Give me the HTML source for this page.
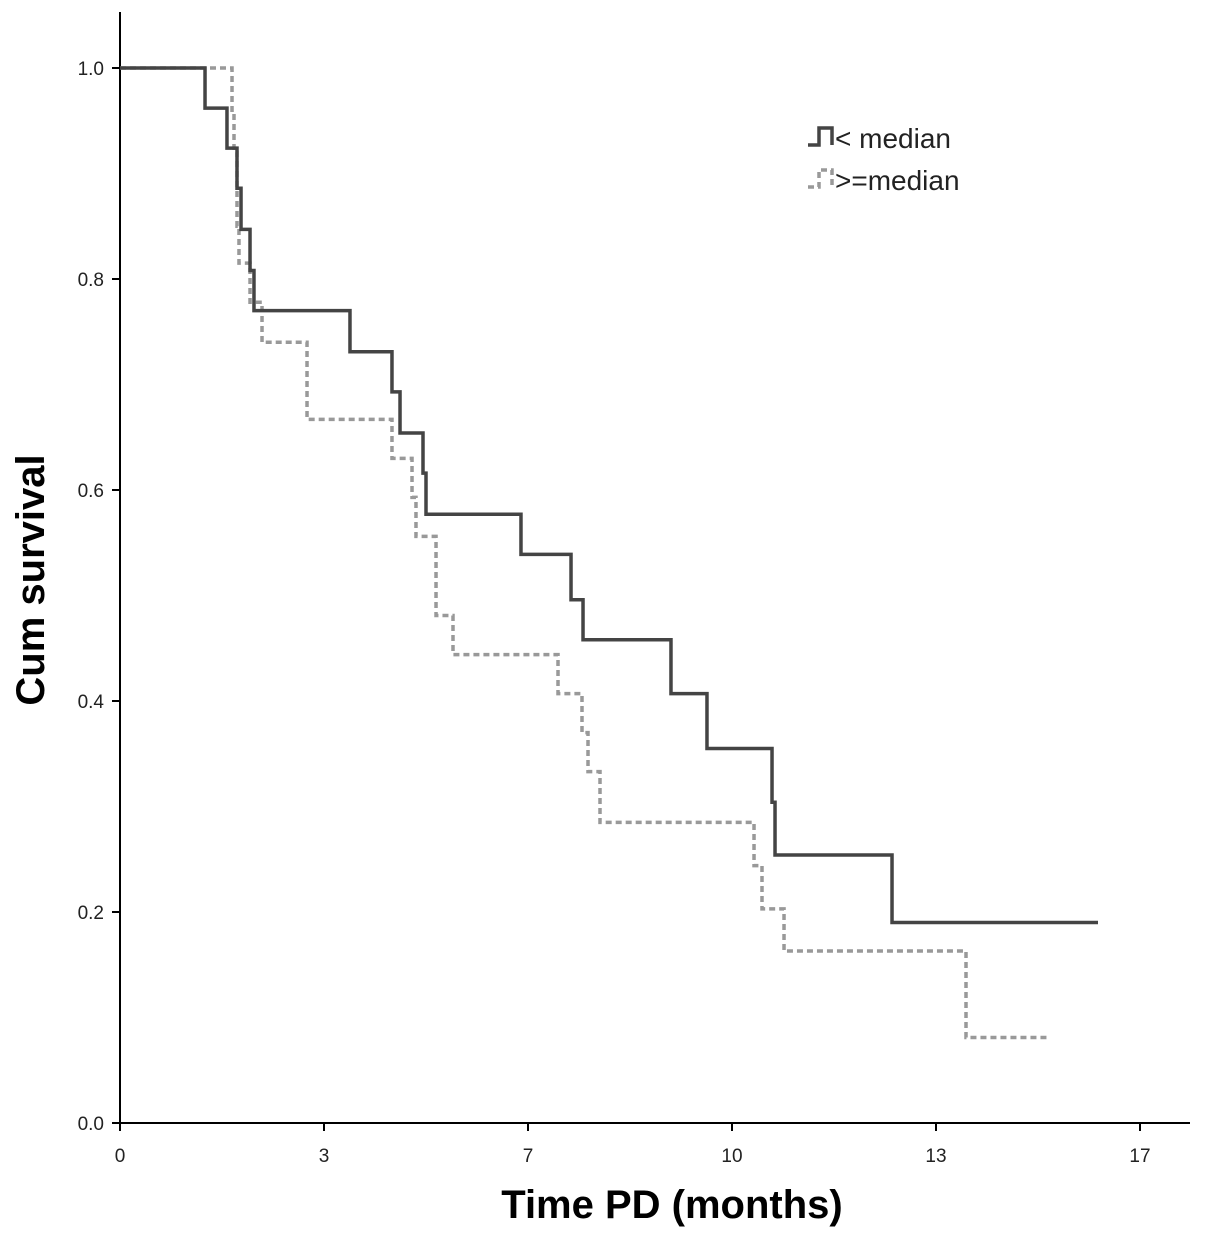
<!DOCTYPE html>
<html><head><meta charset="utf-8"><style>
html,body{margin:0;padding:0;background:#fff;}
svg text{font-family:"Liberation Sans",Arial,sans-serif;}
</style></head><body>
<svg id="chart" width="1205" height="1237" viewBox="0 0 1205 1237" xmlns="http://www.w3.org/2000/svg">
<rect width="1205" height="1237" fill="#fff"/>
<g id="axes"></g>
<g id="series"></g>
<text transform="translate(44,580) rotate(-90)" text-anchor="middle" font-size="40" font-weight="bold" fill="#000">Cum survival</text>
<text x="672" y="1218" text-anchor="middle" font-size="40" font-weight="bold" fill="#000">Time PD (months)</text>
<g>
<path d="M808,145 L819,145 L819,128 L832,128 L832,145" fill="none" stroke="#444" stroke-width="3.5"/>
<text x="835" y="148" font-size="28" fill="#222">&lt; median</text>
<path d="M808,187 L819,187 L819,170 L832,170 L832,187" fill="none" stroke="#999" stroke-width="3.5" stroke-dasharray="6,4"/>
<text x="835" y="190" font-size="28" fill="#222">&gt;=median</text>
</g>
</svg>
<script>
const yTicks=[0,0.2,0.4,0.6,0.8,1.0];
const yTickLabels=["0.0","0.2","0.4","0.6","0.8","1.0"];
const xTicks=[0,3.4,6.8,10.2,13.6,17];
const xTickLabels=["0","3","7","10","13","17"];
const solidTimes=[1.417,1.783,1.95,2.017,2.167,2.233,3.833,4.533,4.667,5.05,5.1,6.683,7.517,7.717,9.183,9.783,10.867,10.917,12.867];
const solidValues=[0.962,0.924,0.886,0.847,0.808,0.770,0.731,0.693,0.654,0.616,0.577,0.539,0.496,0.458,0.407,0.355,0.304,0.254,0.19];
const solidEnd=16.3;
const dashTimes=[1.867,1.9,1.95,1.983,2.167,2.367,3.117,4.533,4.867,4.933,5.267,5.55,7.3,7.7,7.8,8.0,10.567,10.7,11.067,14.1];
const dashValues=[0.96,0.92,0.85,0.815,0.778,0.74,0.667,0.63,0.593,0.556,0.481,0.444,0.407,0.37,0.333,0.285,0.244,0.203,0.163,0.081];
const dashEnd=15.5;

const NS="http://www.w3.org/2000/svg";
const X=m=>120+m*60;
const Y=v=>1123-v*1055;
function mk(tag,attrs,parent){const e=document.createElementNS(NS,tag);for(const k in attrs)e.setAttribute(k,attrs[k]);parent.appendChild(e);return e;}
const axes=document.getElementById('axes');
let yl=mk('line',{x1:120,y1:12,x2:120,y2:1123,stroke:'#000','stroke-width':2},axes);


let xl=mk('line',{x1:119,y1:1123,x2:1190,y2:1123,stroke:'#000','stroke-width':2},axes);


yTicks.forEach((v,i)=>{
  let t=mk('line',{x1:112,y1:Y(v),x2:120,y2:Y(v),stroke:'#000','stroke-width':2},axes);
  
  
  let l=mk('text',{x:104,y:Y(v)+7,'text-anchor':'end','font-size':19,fill:'#222'},axes);
  l.textContent=yTickLabels[i];
  
  
});
xTicks.forEach((m,i)=>{
  let t=mk('line',{x1:X(m),y1:1123,x2:X(m),y2:1131,stroke:'#000','stroke-width':2},axes);
  
  
  let l=mk('text',{x:X(m),y:1162,'text-anchor':'middle','font-size':19,fill:'#222'},axes);
  l.textContent=xTickLabels[i];
  
  
});
function stepPath(times,vals,end){
  let d=`M${X(0)},${Y(1)}`;let prev=1;
  times.forEach((t,i)=>{d+=` L${X(t)},${Y(prev)} L${X(t)},${Y(vals[i])}`;prev=vals[i];});
  d+=` L${X(end)},${Y(prev)}`;return d;
}
const series=document.getElementById('series');
let pd=mk('path',{d:stepPath(dashTimes,dashValues,dashEnd),fill:'none',stroke:'#999','stroke-width':3.5,'stroke-dasharray':'6,4'},series);


let ps=mk('path',{d:stepPath(solidTimes,solidValues,solidEnd),fill:'none',stroke:'#444','stroke-width':3.5},series);


</script>
</body></html>
